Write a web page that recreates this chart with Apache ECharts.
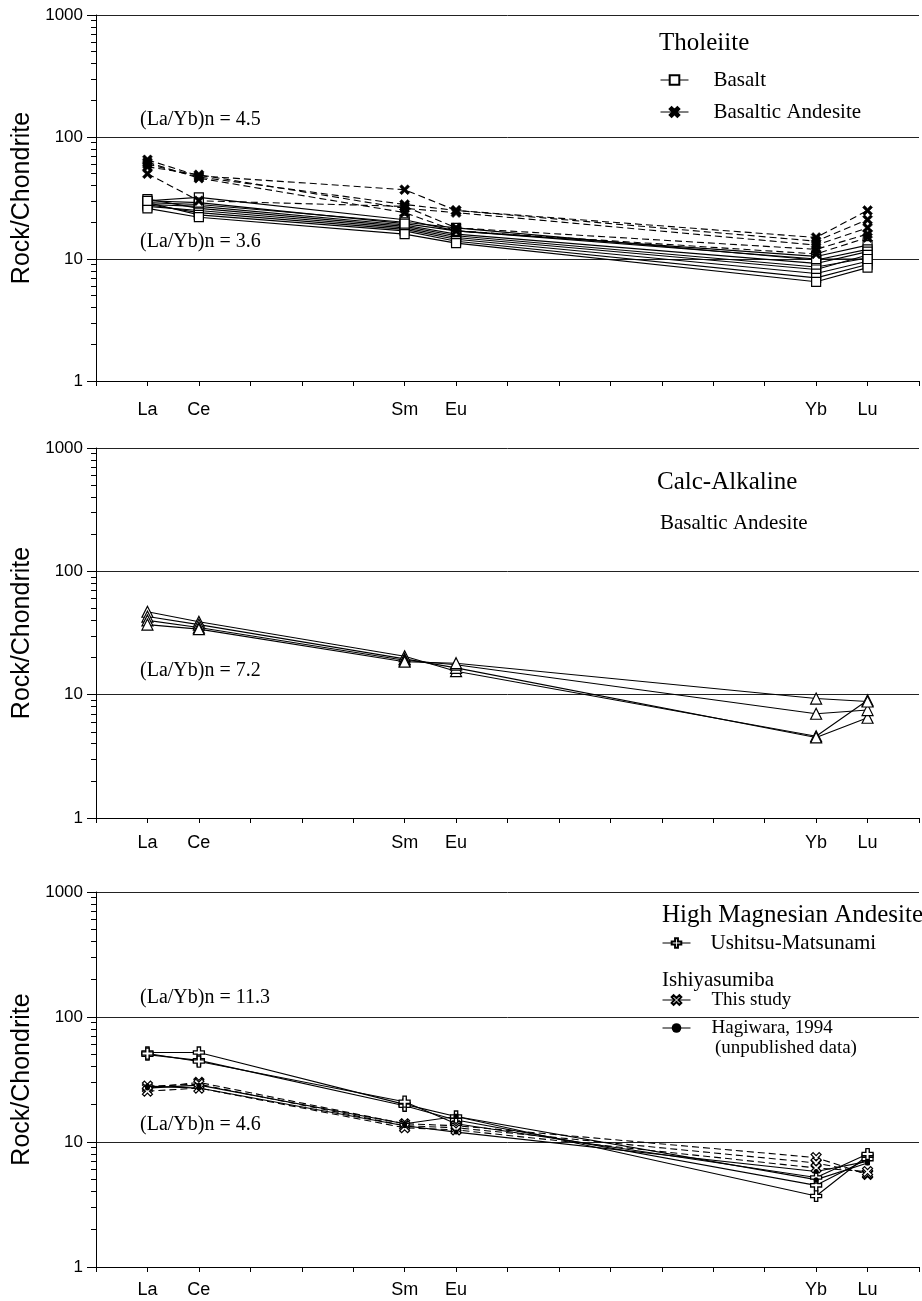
<!DOCTYPE html>
<html><head><meta charset="utf-8">
<script src="https://cdn.jsdelivr.net/npm/echarts@6/dist/echarts.min.js"></script>
<style>html,body{margin:0;padding:0;background:#fff}#c{width:922px;height:1301px}</style>
</head><body><div id="c"></div>
<script>
// ---- axis definitions ----
const elements = ['La','Ce','Pr','Nd','Pm','Sm','Eu','Gd','Tb','Dy','Ho','Er','Tm','Yb','Lu'];
const measured = ['La','Ce','Sm','Eu','Yb','Lu'];
const yMinorTicks = [2,3,4,5,6,7,8,9,20,30,40,50,60,70,80,90,200,300,400,500,600,700,800,900];

// ---- data (values for La, Ce, Sm, Eu, Yb, Lu) ----
const tholeiiteBasalt = [
  [30, 32, 21, 17, 10.5, 13],
  [29, 28, 20, 18, 9.8, 12],
  [28, 27, 19, 16, 9.2, 11.5],
  [31, 26, 18.5, 15.5, 8.6, 10.2],
  [27, 25, 18, 15, 8.2, 10.8],
  [28, 24, 17.5, 14.5, 7.6, 9.6],
  [29, 23, 17, 14, 7.0, 9.0],
  [26, 22, 16, 13.5, 6.5, 8.5],
  [30, 29, 19.5, 17, 10, 10]
];
const tholeiiteBasalticAndesite = [
  [65, 48, 37, 25, 15, 25],
  [60, 47, 28, 25, 14, 21],
  [57, 49, 26, 24, 13, 18],
  [50, 30, 27, 18, 12, 16],
  [62, 46, 24, 17, 11, 15]
];
const calcAlkalineBasalticAndesite = [
  [47, 39, 20.5, 15.5, 4.6, 9.0],
  [43, 37, 19.5, 16.5, 4.5, 6.5],
  [40, 35, 19, 17.5, 7.0, 7.5],
  [37, 34, 18.5, 18, 9.3, 8.8]
];
const hmaUshitsu = [
  [52, 52, 20, 16, 3.7, 7.8],
  [50, 45, 19.5, 15, 4.5, 7.3],
  [51, 44, 21, 14, 5.2, 8.0]
];
const hmaThisStudy = [
  [27, 30, 14, 13.5, 7.5, 5.5],
  [28, 29, 13.5, 13, 6.8, 5.6],
  [25.5, 27, 13, 12.5, 6.2, 5.8]
];
const hmaHagiwara = [
  [28, 27, 13.5, 12, 5.8, 7],
  [27, 28.5, 14, 16, 5, 6.8]
];

// ---- styles ----
const SERIF = '"Liberation Serif","Times New Roman",serif';
const SANS = '"Liberation Sans",Arial,sans-serif';
const SYM_FATX = 'path://M2,0 L5,3 L8,0 L10,2 L7,5 L10,8 L8,10 L5,7 L2,10 L0,8 L3,5 L0,2 Z';
const SYM_PLUS = 'path://M3.5,0 H6.5 V3.5 H10 V6.5 H6.5 V10 H3.5 V6.5 H0 V3.5 H3.5 Z';

const grids = [
  {left: 96, right: -10, top: 15, height: 366},
  {left: 96, right: -10, top: 448, height: 370},
  {left: 96, right: -10, top: 892, height: 375}
];
const labelMargins = [20, 16, 14];

function toPoints(row) {
  return row.map((v, i) => [elements.indexOf(measured[i]), v]);
}

const xAxes = grids.map((g, i) => ({
  type: 'value', gridIndex: i, min: -1, max: 15, interval: 1,
  axisLine: {show: true, onZero: false, lineStyle: {color: '#000', width: 1}},
  axisTick: {show: true, length: 5, inside: false, lineStyle: {color: '#000'}},
  splitLine: {show: false},
  axisLabel: {
    margin: labelMargins[i], color: '#000', fontFamily: SANS, fontSize: 18,
    formatter: v => (measured.indexOf(elements[v]) >= 0 ? elements[v] : '')
  }
}));

const yAxes = [];
grids.forEach((g, i) => {
  yAxes.push({
    type: 'log', logBase: 10, gridIndex: i, min: 1, max: 1000, position: 'left',
    name: 'Rock/Chondrite', nameLocation: 'middle', nameGap: 60, nameRotate: 90,
    nameTextStyle: {fontFamily: SANS, fontSize: 25, color: '#000'},
    axisLine: {show: true, onZero: false, lineStyle: {color: '#000', width: 1}},
    axisTick: {show: true, length: 9, lineStyle: {color: '#000'}},
    axisLabel: {margin: 13, color: '#000', fontFamily: SANS, fontSize: 17, formatter: v => String(v)},
    splitLine: {show: true, lineStyle: {color: '#222', width: 1}}
  });
  yAxes.push({
    type: 'log', logBase: 10, gridIndex: i, min: 1, max: 1000, position: 'left', offset: 0,
    axisLine: {show: false, onZero: false},
    axisTick: {show: true, length: 5, customValues: yMinorTicks, lineStyle: {color: '#000'}},
    axisLabel: {show: false},
    splitLine: {show: false}
  });
});

const series = [];
function addGroup(rows, name, gi, opts) {
  rows.forEach(r => {
    series.push({
      type: 'line', name: name, xAxisIndex: gi, yAxisIndex: gi * 2,
      data: toPoints(r), animation: false, silent: true,
      lineStyle: {color: '#000', width: 1.1, type: opts.dash ? [7, 4] : 'solid'},
      symbol: opts.symbol, symbolSize: opts.size,
      itemStyle: {color: opts.fill, borderColor: '#000', borderWidth: opts.bw}
    });
  });
}
addGroup(tholeiiteBasalt, 'Basalt', 0, {symbol: 'rect', size: 9, fill: '#fff', bw: 1.2});
addGroup(tholeiiteBasalticAndesite, 'Basaltic Andesite', 0, {symbol: SYM_FATX, size: 10, fill: '#000', bw: 0.5, dash: true});
addGroup(calcAlkalineBasalticAndesite, 'CA Basaltic Andesite', 1, {symbol: 'triangle', size: 11, fill: '#fff', bw: 1.2});
addGroup(hmaUshitsu, 'Ushitsu-Matsunami', 2, {symbol: SYM_PLUS, size: 11, fill: '#fff', bw: 1.3});
addGroup(hmaThisStudy, 'This study', 2, {symbol: SYM_FATX, size: 10, fill: '#fff', bw: 1.2, dash: true});
addGroup(hmaHagiwara, 'Hagiwara, 1994', 2, {symbol: 'circle', size: 5, fill: '#000', bw: 0});

function txt(text, x, y, size) {
  return {type: 'text', x: x, y: y, silent: true,
    style: {text: text, fill: '#000', fontFamily: SERIF, fontSize: size, verticalAlign: 'middle', align: 'left'}};
}

const legendCommon = {
  orient: 'vertical', selectedMode: false, padding: 0,
  itemWidth: 28, itemHeight: 12,
  lineStyle: {type: 'solid', width: 1, color: '#000'}
};

const option = {
  backgroundColor: '#fff',
  animation: false,
  grid: grids,
  xAxis: xAxes,
  yAxis: yAxes,
  series: series,
  legend: [
    Object.assign({}, legendCommon, {data: ['Basalt', 'Basaltic Andesite'], left: 660, top: 68, itemGap: 8,
      textStyle: {fontFamily: SERIF, fontSize: 21, lineHeight: 24, color: '#000', padding: [0, 0, 0, 20]}}),
    Object.assign({}, legendCommon, {data: ['Ushitsu-Matsunami'], left: 662, top: 931, itemGap: 8,
      textStyle: {fontFamily: SERIF, fontSize: 21, lineHeight: 24, color: '#000', padding: [0, 0, 0, 15]}}),
    Object.assign({}, legendCommon, {data: ['This study', 'Hagiwara, 1994'], left: 662, top: 990, itemGap: 8,
      textStyle: {fontFamily: SERIF, fontSize: 19, lineHeight: 20, color: '#000', padding: [0, 0, 0, 16]}})
  ],
  graphic: [
    txt('Tholeiite', 659, 43, 25),
    txt('(La/Yb)n = 4.5', 140, 120, 20),
    txt('(La/Yb)n = 3.6', 140, 242, 20),
    txt('Calc-Alkaline', 657, 482, 25),
    txt('Basaltic Andesite', 660, 523, 21),
    txt('(La/Yb)n = 7.2', 140, 671, 20),
    txt('High Magnesian Andesite', 662, 915, 25),
    txt('Ishiyasumiba', 662, 980, 21),
    txt('(unpublished data)', 715, 1048, 19),
    txt('(La/Yb)n = 11.3', 140, 998, 20),
    txt('(La/Yb)n = 4.6', 140, 1125, 20)
  ]
};

const chart = echarts.init(document.getElementById('c'), null, {renderer: 'canvas'});
chart.setOption(option);
</script>
</body></html>
